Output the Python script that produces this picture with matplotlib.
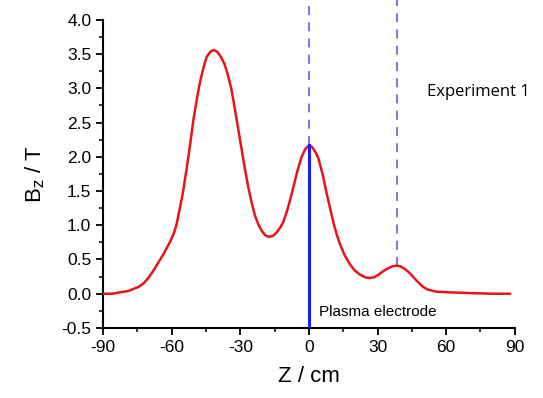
import matplotlib
matplotlib.use("Agg")
import matplotlib.pyplot as plt
import numpy as np

plt.rcParams['font.family'] = ['Liberation Sans', 'DejaVu Sans']
plt.rcParams['axes.unicode_minus'] = False

# field profile
z_cm = [-90, -86, -82.6, -79, -76.8, -74.5, -72.4, -70, -68, -65.8, -63.6, -60.7, -59,
        -57.8, -56.4, -55, -53.4, -52, -50.5, -49, -47.6, -46, -44.7, -43, -41.5, -40,
        -38.5, -37, -35.5, -34, -32.5, -31, -29.5, -28, -26.5, -25, -23.5, -22, -20.5,
        -19, -17.3, -15.5, -14, -12.5, -11.2, -9.5, -8, -6.9, -5, -3.2, -1.5, 0.1, 1.5,
        3, 4.1, 6, 7.7, 9.5, 11, 12.1, 13.5, 15.5, 17.9, 20, 22.3, 24.5, 26.6, 28.5,
        30.5, 32.5, 34.5, 36.5, 38.3, 40, 42, 44.1, 46, 48, 49.9, 52, 55.8, 61.6, 70,
        80, 88]
bz_t = [0.0, 0.0, 0.02, 0.04, 0.07, 0.10, 0.15, 0.24, 0.34, 0.46, 0.58, 0.76, 0.89,
        1.03, 1.26, 1.5, 1.85, 2.17, 2.55, 2.85, 3.1, 3.32, 3.46, 3.54, 3.56, 3.53,
        3.46, 3.36, 3.2, 3.0, 2.72, 2.42, 2.12, 1.82, 1.55, 1.32, 1.13, 1.0, 0.91,
        0.85, 0.83, 0.85, 0.9, 0.97, 1.05, 1.22, 1.4, 1.55, 1.8, 2.0, 2.12, 2.17, 2.14,
        2.06, 1.98, 1.74, 1.47, 1.21, 1.0, 0.87, 0.73, 0.57, 0.43, 0.34, 0.28, 0.24,
        0.23, 0.24, 0.28, 0.33, 0.37, 0.40, 0.41, 0.40, 0.36, 0.30, 0.23, 0.16, 0.10,
        0.06, 0.03, 0.02, 0.01, 0.0, 0.0]

electrode_z = 0
dashed_z = [0, 38.3]
dashed_base = [2.17, 0.41]

fig = plt.figure(figsize=(5.43, 3.98), dpi=100)
ax = fig.add_axes([0.19, 0.176, 0.758, 0.774])

ax.plot(z_cm, bz_t, color='#e8141a', lw=1.8, zorder=3,
        solid_joinstyle='round', solid_capstyle='round')

# solid electrode marker and dashed guides running up past the frame
ax.plot([electrode_z, electrode_z], [-0.5, 2.17], color='#1a1aff', lw=2.2, zorder=4)
for zx, yb in zip(dashed_z, dashed_base):
    ax.plot([zx, zx], [yb, 4.3], color='#6a6af0', lw=1.3, ls=(0, (5, 4)),
            clip_on=False, zorder=2)

ax.text(4.5, -0.27, 'Plasma electrode', fontsize=11, va='center', ha='left')
ax.text(51.5, 2.95, 'Experiment 1', fontsize=12, va='center', ha='left',
        family=['Open Sans', 'DejaVu Sans'])

ax.set_xlim(-90, 90)
ax.set_ylim(-0.5, 4.0)
ax.set_xticks(np.arange(-90, 91, 30))
ax.set_xticks(np.arange(-90, 91, 15), minor=True)
ax.set_yticks(np.arange(-0.5, 4.01, 0.5))
ax.set_yticks(np.arange(-0.5, 4.01, 0.25), minor=True)
ax.yaxis.set_major_formatter(matplotlib.ticker.FormatStrFormatter('%.1f'))

for s in ['top', 'right']:
    ax.spines[s].set_visible(False)
for s in ['left', 'bottom']:
    ax.spines[s].set_linewidth(1.5)
ax.tick_params(which='major', direction='out', length=5, width=1.3, labelsize=12.5)
ax.tick_params(which='minor', direction='out', length=3, width=1.1)

ax.set_xlabel('Z / cm', fontsize=16, labelpad=8)
ax.set_ylabel('B$_\\mathrm{z}$ / T', fontsize=16, labelpad=10)

fig.savefig('out.png', dpi=100)
